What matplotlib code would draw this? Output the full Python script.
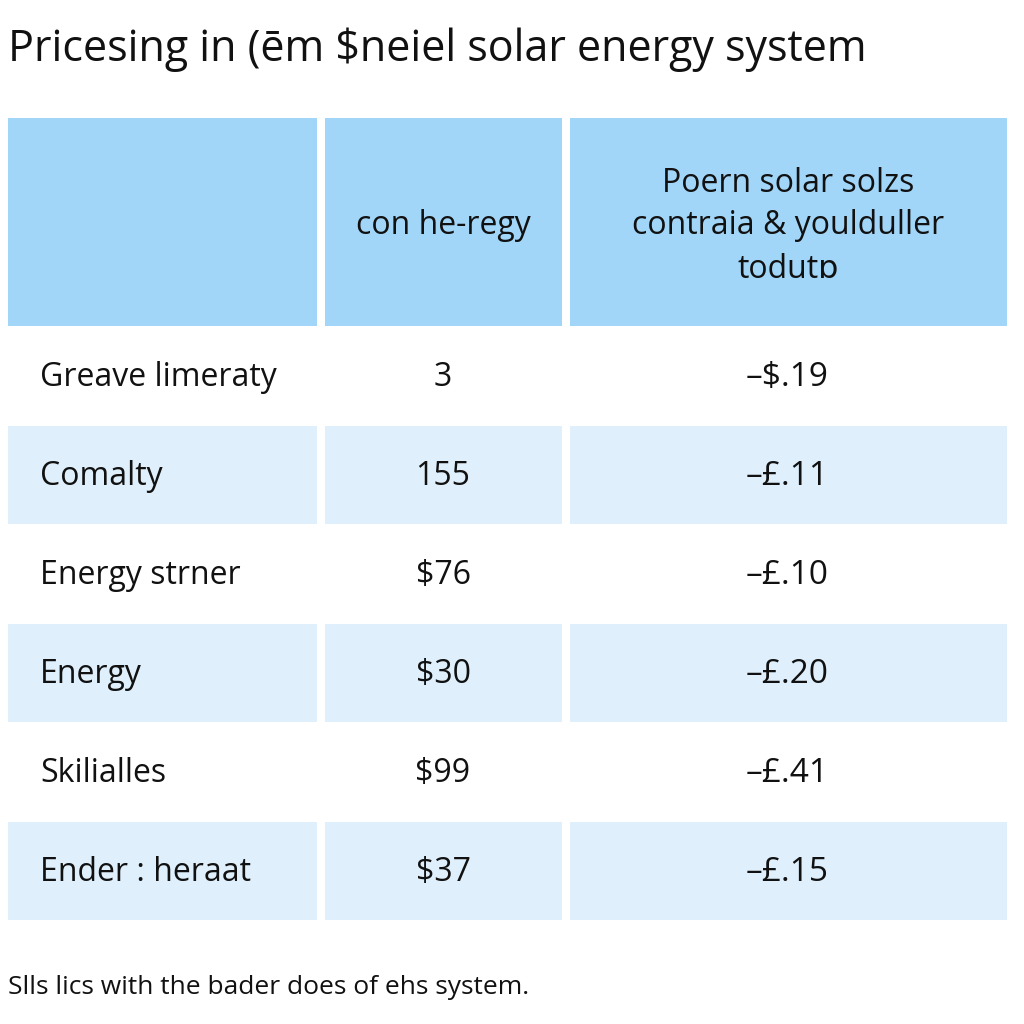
import matplotlib.pyplot as plt
from matplotlib.patches import Rectangle

# Data
title = 'Pricesing in (ēm $neiel solar energy system'
footnote = 'Slls lics with the bader does of ehs system.'
header = ['', 'con he-regy', 'Poern solar solzs\ncontraia & youlduller\ntodutɒ']
row_labels = ['Greave limeraty', 'Comalty', 'Energy strner', 'Energy', 'Skilialles', 'Ender : heraat']
col2_vals = ['3', '155', '$76', '$30', '$99', '$37']
col3_vals = ['–$.19', '–£.11', '–£.10', '–£.20', '–£.41', '–£.15']

# Layout (pixel units, origin top-left)
col_left = [8, 325, 570]
col_right = [317, 562, 1007]
header_top, header_bot = 118, 326
row_h = 99
head_color = '#a2d6f9'
band_color = '#dff0fc'
font = ['Open Sans', 'DejaVu Sans']

fig = plt.figure(figsize=(10.24, 10.24), dpi=100)
ax = fig.add_axes([0, 0, 1, 1])
ax.set_xlim(0, 1024)
ax.set_ylim(1024, 0)
ax.axis('off')

ax.text(8, 50, title, fontsize=31, family=font, weight='medium', va='center', ha='left',
        color='#111111')

# header row
for j in range(3):
    ax.add_patch(Rectangle((col_left[j], header_top), col_right[j] - col_left[j],
                           header_bot - header_top, color=head_color, lw=0))
    if header[j]:
        cx = (col_left[j] + col_right[j]) / 2
        ax.text(cx, (header_top + header_bot) / 2 + 4, header[j], fontsize=23, family=font,
                ha='center', va='center', linespacing=1.4, color='#111111')

# body rows
for i, lab in enumerate(row_labels):
    top = header_bot + i * row_h
    if i % 2 == 1:
        for j in range(3):
            ax.add_patch(Rectangle((col_left[j], top + 1), col_right[j] - col_left[j],
                                   row_h - 1, color=band_color, lw=0))
    cy = top + row_h / 2 + 2
    ax.text(40, cy, lab, fontsize=23, family=font, ha='left', va='center', color='#111111')
    ax.text(443, cy, col2_vals[i], fontsize=23, family=font, ha='center', va='center', color='#111111')
    ax.text(787, cy, col3_vals[i], fontsize=24, family=font, ha='center', va='center', color='#111111')

ax.text(8, 987, footnote, fontsize=19, family=font, ha='left', va='center', color='#111111')

plt.savefig('out.png', dpi=100)
